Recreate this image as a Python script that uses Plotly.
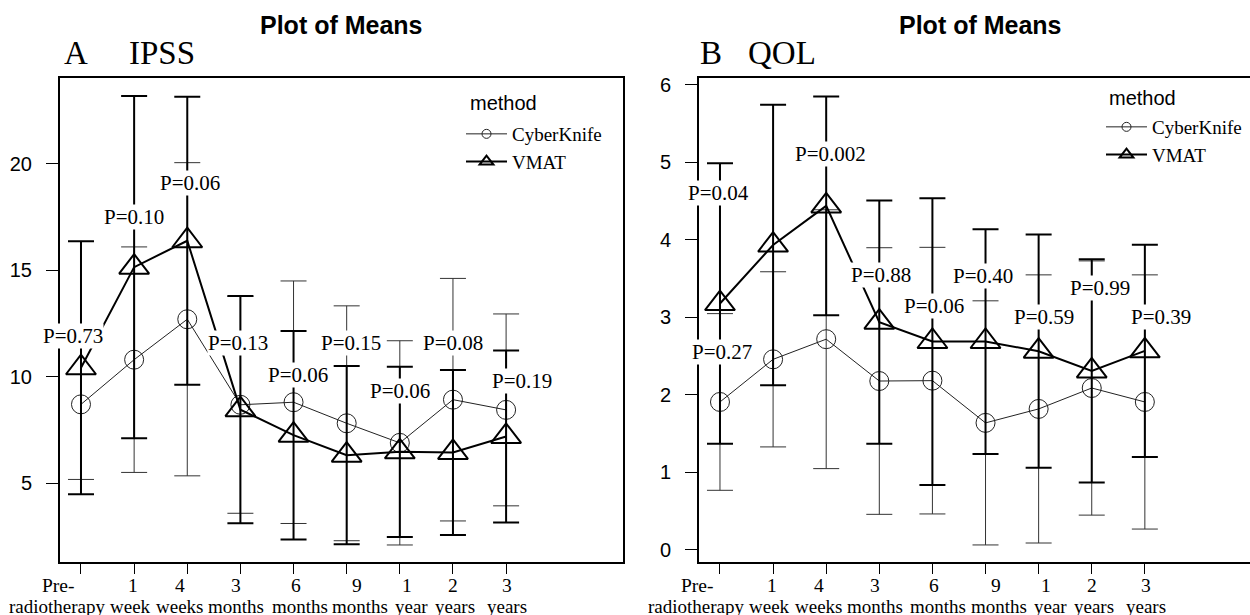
import plotly.graph_objects as go

# ---------------- data ----------------
cat_line1 = ["Pre-", "1", "4", "3", "6", "9", "1", "2", "3"]
cat_line2 = ["radiotherapy", "week", "weeks", "months", "months", "months", "year", "years", "years"]
series_names = ["CyberKnife", "VMAT"]

ipss_ck_mean = [8.70, 10.80, 12.70, 8.68, 8.80, 7.81, 6.89, 8.92, 8.44]
ipss_ck_sd = [3.53, 5.30, 7.36, 5.10, 5.70, 5.52, 4.80, 5.70, 4.51]
ipss_vmat_mean = [10.42, 15.15, 16.39, 8.45, 7.25, 6.31, 6.47, 6.44, 7.19]
ipss_vmat_sd = [5.95, 8.04, 6.77, 5.34, 4.90, 4.19, 4.00, 3.88, 4.04]
ipss_p = ["P=0.73", "P=0.10", "P=0.06", "P=0.13", "P=0.06", "P=0.15", "P=0.06", "P=0.08", "P=0.19"]

qol_ck_mean = [1.91, 2.46, 2.72, 2.18, 2.185, 1.64, 1.82, 2.09, 1.91]
qol_ck_sd = [1.14, 1.13, 1.67, 1.72, 1.72, 1.575, 1.73, 1.64, 1.64]
qol_vmat_mean = [3.18, 3.935, 4.44, 2.94, 2.69, 2.69, 2.565, 2.31, 2.57]
qol_vmat_sd = [1.81, 1.81, 1.41, 1.57, 1.85, 1.45, 1.505, 1.44, 1.37]
qol_p = ["P=0.27", "P=0.04", "P=0.002", "P=0.88", "P=0.06", "P=0.40", "P=0.59", "P=0.99", "P=0.39"]

ipss_ticks = [5, 10, 15, 20]
qol_ticks = [0, 1, 2, 3, 4, 5, 6]

# ---------------- layout helpers (positions / styles) ----------------
ipss_label_pos = [(-0.15, 11.91), (1.0, 17.52), (2.06, 19.12), (2.95, 11.57), (4.09, 10.08),
                  (5.08, 11.57), (6.01, 9.34), (7.0, 11.57), (8.29, 9.80)]
qol_label_pos = [(0.04, 2.56), (-0.02, 4.60), (2.09, 5.11), (3.04, 3.55), (4.03, 3.15),
                 (4.95, 3.54), (6.1, 3.0), (7.16, 3.38), (8.31, 3.0)]
line1_shift = [-22, -1.5, -7, -4, 2, 10, 7, 0.5, 1]
line2_shift = [-23, -4, -8, -4, 6, 13, 12, 2.3, 1.3]

W, H = 1250, 615
SERIF = "Liberation Serif"
SANS = "Liberation Sans"


def px(x):
    return x / W


def py(y):
    return 1 - y / H


xs = list(range(len(cat_line1)))
fig = go.Figure()


def add_panel(ck_m, ck_s, vm_m, vm_s, xa, ya, legend):
    fig.add_trace(go.Scatter(
        x=xs, y=ck_m, mode="lines+markers", xaxis=xa, yaxis=ya, showlegend=False,
        line=dict(color="#222", width=1),
        marker=dict(symbol="circle-open", size=19, color="#222", line=dict(width=1)),
        error_y=dict(type="data", array=ck_s, symmetric=True, color="#333", thickness=1, width=13)))
    fig.add_trace(go.Scatter(
        x=xs, y=vm_m, mode="lines+markers", xaxis=xa, yaxis=ya, showlegend=False,
        line=dict(color="black", width=2),
        marker=dict(symbol="triangle-up-open", size=26, color="black", line=dict(width=2)),
        error_y=dict(type="data", array=vm_s, symmetric=True, color="black", thickness=2, width=13)))
    # legend-only entries
    fig.add_trace(go.Scatter(
        x=[None], y=[None], mode="lines+markers", name=series_names[0], xaxis=xa, yaxis=ya,
        legend=legend, line=dict(color="#222", width=1),
        marker=dict(symbol="circle-open", size=9, color="#222", line=dict(width=1))))
    fig.add_trace(go.Scatter(
        x=[None], y=[None], mode="lines+markers", name=series_names[1], xaxis=xa, yaxis=ya,
        legend=legend, line=dict(color="black", width=2),
        marker=dict(symbol="triangle-up-open", size=12, color="black", line=dict(width=2))))


add_panel(ipss_ck_mean, ipss_ck_sd, ipss_vmat_mean, ipss_vmat_sd, "x", "y", "legend")
add_panel(qol_ck_mean, qol_ck_sd, qol_vmat_mean, qol_vmat_sd, "x2", "y2", "legend2")

ann = []
for xr, yr, pos, labels in (("x", "y", ipss_label_pos, ipss_p), ("x2", "y2", qol_label_pos, qol_p)):
    for (lx, ly), t in zip(pos, labels):
        ann.append(dict(x=lx, y=ly, xref=xr, yref=yr, text=t, showarrow=False,
                        font=dict(family=SERIF, size=21, color="black"), bgcolor="white", borderpad=0))
    # category (tick) labels, two lines each
    for i in range(len(xs)):
        for txt, sh, yc, fs in ((cat_line1[i], line1_shift[i], 585.4, 19.5),
                                (cat_line2[i], line2_shift[i], 606.8, 19)):
            ann.append(dict(x=xs[i], y=py(yc), xref=xr, yref="paper", text=txt, showarrow=False,
                            xshift=sh, xanchor="center", yanchor="middle",
                            font=dict(family=SERIF, size=fs, color="black")))

# titles
for cx in (341, 980):
    ann.append(dict(x=px(cx), y=py(25), xref="paper", yref="paper", text="<b>Plot of Means</b>",
                    showarrow=False, xanchor="center", yanchor="middle",
                    font=dict(family=SANS, size=25, color="black")))
for x0, t in ((62, "A"), (127, "IPSS"), (698, "B"), (746, "QOL")):
    ann.append(dict(x=px(x0), y=py(53), xref="paper", yref="paper", text=t, showarrow=False,
                    xanchor="left", yanchor="middle", font=dict(family=SERIF, size=33, color="black")))
# legend headers
for x0, y0 in ((468, 103), (1107, 98)):
    ann.append(dict(x=px(x0), y=py(y0), xref="paper", yref="paper", text="method", showarrow=False,
                    xanchor="left", yanchor="middle", font=dict(family=SANS, size=20, color="black")))

xaxis_common = dict(range=[-0.395, 10.2], tickvals=xs, showticklabels=False, showgrid=False,
                    zeroline=False, showline=True, linecolor="black", linewidth=2, mirror=True,
                    ticks="outside", ticklen=10, tickwidth=1.2, tickcolor="black",
                    automargin=False)
yaxis_common = dict(showgrid=False, zeroline=False, showline=True, linecolor="black", linewidth=2,
                    ticks="outside", ticklen=12, tickwidth=1.2, tickcolor="black", automargin=False,
                    ticklabelstandoff=10,
                    tickfont=dict(family=SANS, size=20, color="black"))

xa1 = dict(xaxis_common, domain=[px(60), px(623)], anchor="y")
xa2 = dict(xaxis_common, domain=[px(699), 1.0], anchor="y2", range=[-0.395, 9.98])
ya1 = dict(yaxis_common, domain=[py(562), py(78)], range=[1.29, 24.04], tickvals=ipss_ticks,
           mirror=True, anchor="x")
ya2 = dict(yaxis_common, domain=[py(562), py(78)], range=[-0.155, 6.09], tickvals=qol_ticks,
           mirror=False, anchor="x2")

leg_common = dict(xanchor="left", yanchor="top", bgcolor="rgba(0,0,0,0)",
                  font=dict(family=SERIF, size=19, color="black"),
                  itemwidth=41, tracegroupgap=0)

fig.update_layout(
    width=W, height=H, margin=dict(l=0, r=0, t=0, b=0, autoexpand=False),
    paper_bgcolor="white", plot_bgcolor="white",
    xaxis=xa1, yaxis=ya1, xaxis2=xa2, yaxis2=ya2,
    legend=dict(leg_common, x=px(461), y=py(115)),
    legend2=dict(leg_common, x=px(1101), y=py(108)),
    annotations=ann,
)

fig.write_html("out.html")
